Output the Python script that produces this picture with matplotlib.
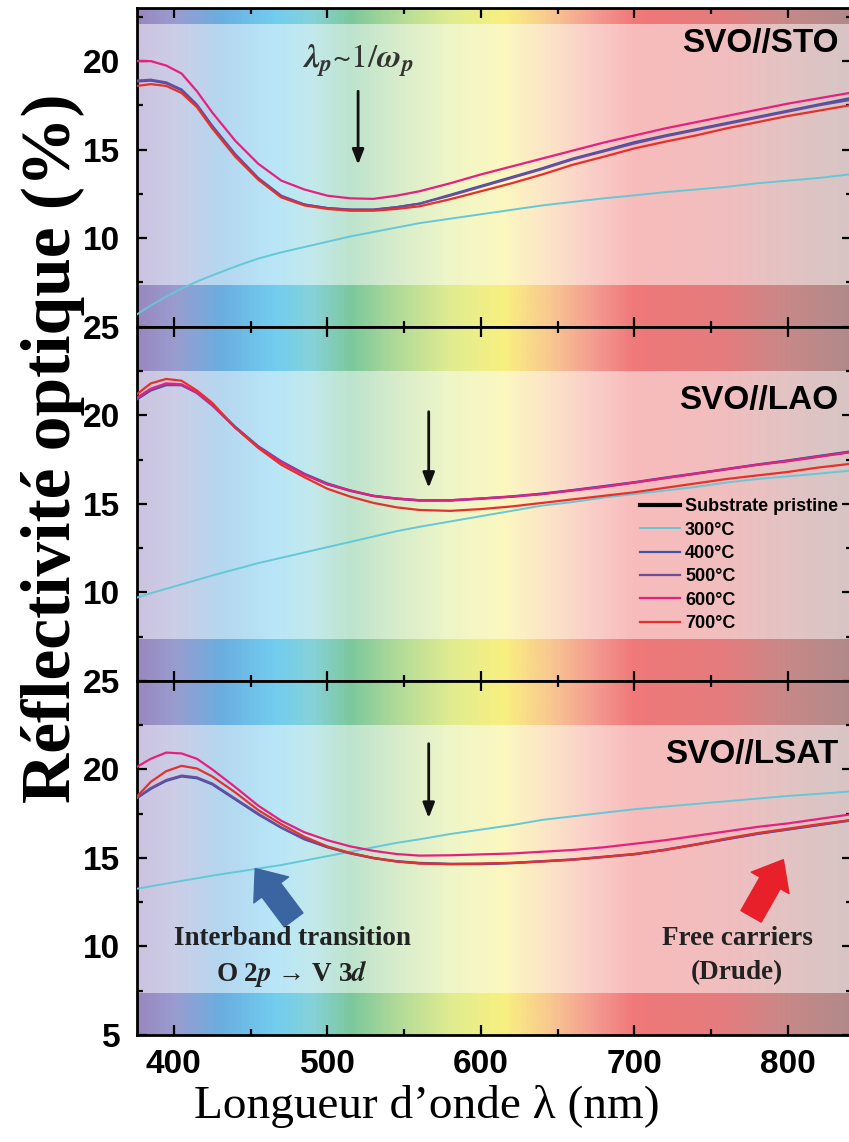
import numpy as np
import matplotlib.pyplot as plt
from matplotlib.colors import LinearSegmentedColormap
from matplotlib.ticker import MultipleLocator

plt.rcParams['font.family'] = ['Liberation Sans Narrow', 'Liberation Sans', 'DejaVu Sans']
plt.rcParams['font.weight'] = 'bold'
plt.rcParams['mathtext.fontset'] = 'stix'

# Data
wavelength = [376, 385, 395, 405, 415, 425, 440, 455, 470, 485, 500, 515, 530, 545, 560,
              580, 600, 620, 640, 660, 680, 700, 720, 740, 760, 780, 800, 820, 840]

temps = ['300°C', '400°C', '500°C', '600°C', '700°C']

sto_300 = [5.7, 6.2, 6.7, 7.15, 7.55, 7.9, 8.4, 8.85, 9.2, 9.5, 9.8, 10.1, 10.35, 10.6, 10.85,
           11.1, 11.35, 11.6, 11.85, 12.05, 12.25, 12.42, 12.6, 12.75, 12.9, 13.1, 13.25, 13.4, 13.6]
sto_400 = [18.85, 18.9, 18.75, 18.35, 17.5, 16.3, 14.7, 13.35, 12.35, 11.9, 11.7, 11.6, 11.6, 11.75, 11.95,
           12.45, 12.95, 13.45, 13.95, 14.5, 14.95, 15.42, 15.8, 16.15, 16.5, 16.85, 17.2, 17.55, 17.9]
sto_500 = [18.9, 18.95, 18.8, 18.4, 17.55, 16.35, 14.75, 13.4, 12.4, 11.9, 11.7, 11.62, 11.62, 11.75, 11.95,
           12.4, 12.9, 13.4, 13.9, 14.45, 14.9, 15.35, 15.75, 16.1, 16.45, 16.8, 17.15, 17.5, 17.8]
sto_600 = [20.0, 20.0, 19.75, 19.3, 18.3, 17.1, 15.5, 14.2, 13.25, 12.75, 12.4, 12.25, 12.22, 12.4, 12.65,
           13.1, 13.6, 14.05, 14.5, 14.95, 15.4, 15.8, 16.2, 16.55, 16.9, 17.25, 17.6, 17.9, 18.2]
sto_700 = [18.6, 18.7, 18.6, 18.2, 17.4, 16.2, 14.6, 13.3, 12.3, 11.85, 11.65, 11.55, 11.55, 11.65, 11.8,
           12.2, 12.65, 13.1, 13.6, 14.15, 14.6, 15.07, 15.45, 15.8, 16.2, 16.55, 16.9, 17.2, 17.5]

lao_300 = [9.7, 9.95, 10.2, 10.45, 10.7, 10.95, 11.3, 11.65, 11.95, 12.25, 12.55, 12.85, 13.15, 13.45, 13.7,
           14.0, 14.3, 14.6, 14.9, 15.1, 15.35, 15.55, 15.75, 15.95, 16.2, 16.4, 16.55, 16.7, 16.87]
lao_400 = [20.9, 21.4, 21.7, 21.7, 21.3, 20.6, 19.35, 18.25, 17.4, 16.7, 16.15, 15.75, 15.45, 15.3, 15.2,
           15.2, 15.3, 15.42, 15.58, 15.78, 16.0, 16.22, 16.48, 16.72, 16.97, 17.22, 17.45, 17.7, 17.95]
lao_500 = [20.95, 21.45, 21.75, 21.7, 21.25, 20.55, 19.3, 18.2, 17.35, 16.65, 16.1, 15.72, 15.43, 15.28, 15.18,
           15.18, 15.28, 15.4, 15.55, 15.76, 15.97, 16.2, 16.45, 16.7, 16.95, 17.2, 17.43, 17.68, 17.92]
lao_600 = [21.0, 21.5, 21.8, 21.75, 21.3, 20.6, 19.3, 18.2, 17.35, 16.65, 16.1, 15.75, 15.45, 15.3, 15.2,
           15.2, 15.3, 15.4, 15.55, 15.75, 15.95, 16.2, 16.45, 16.7, 16.95, 17.2, 17.4, 17.65, 17.9]
lao_700 = [21.2, 21.8, 22.05, 21.95, 21.4, 20.7, 19.3, 18.15, 17.2, 16.5, 15.85, 15.4, 15.05, 14.8, 14.65,
           14.6, 14.7, 14.85, 15.05, 15.25, 15.45, 15.65, 15.9, 16.15, 16.4, 16.6, 16.8, 17.05, 17.25]

lsat_300 = [13.26, 13.4, 13.55, 13.7, 13.85, 14.0, 14.2, 14.4, 14.6, 14.85, 15.1, 15.35, 15.6, 15.85, 16.05,
            16.35, 16.6, 16.85, 17.15, 17.35, 17.55, 17.75, 17.9, 18.05, 18.2, 18.35, 18.5, 18.62, 18.75]
lsat_400 = [18.38, 18.9, 19.35, 19.6, 19.5, 19.15, 18.3, 17.45, 16.7, 16.05, 15.6, 15.25, 14.98, 14.8, 14.7,
            14.65, 14.65, 14.7, 14.8, 14.9, 15.05, 15.2, 15.45, 15.75, 16.05, 16.35, 16.6, 16.85, 17.1]
lsat_500 = [18.4, 18.95, 19.4, 19.65, 19.55, 19.2, 18.35, 17.5, 16.72, 16.08, 15.62, 15.27, 15.0, 14.82, 14.72,
            14.67, 14.67, 14.72, 14.82, 14.92, 15.07, 15.22, 15.47, 15.77, 16.07, 16.37, 16.62, 16.87, 17.12]
lsat_600 = [20.15, 20.6, 20.95, 20.9, 20.6, 20.0, 19.0, 17.95, 17.1, 16.45, 16.0, 15.65, 15.4, 15.22, 15.13,
            15.15, 15.2, 15.25, 15.35, 15.45, 15.6, 15.8, 16.0, 16.25, 16.5, 16.75, 16.95, 17.2, 17.45]
lsat_700 = [18.47, 19.3, 19.9, 20.2, 20.05, 19.6, 18.7, 17.7, 16.9, 16.2, 15.65, 15.28, 15.0, 14.8, 14.68,
            14.65, 14.68, 14.72, 14.8, 14.9, 15.05, 15.22, 15.45, 15.75, 16.1, 16.4, 16.65, 16.9, 17.13]

panel_names = ['SVO//STO', 'SVO//LAO', 'SVO//LSAT']
panel_series = [[sto_300, sto_400, sto_500, sto_600, sto_700],
                [lao_300, lao_400, lao_500, lao_600, lao_700],
                [lsat_300, lsat_400, lsat_500, lsat_600, lsat_700]]
arrow_x = [520, 566, 566]
arrow_y = [(18.3, 14.15), (20.2, 15.9), (21.45, 17.25)]

# styles
line_colors = ['#64c8d8', '#3b55a5', '#6c4d9c', '#e6207f', '#e8302a']
line_widths = [1.4, 1.6, 1.6, 1.6, 1.6]
ylims = [(5, 23), (5, 25), (5, 25)]
band_tops = [22.1, 22.5, 22.5]
band_bottom = 7.35
xlim = (376, 842)

spectrum = LinearSegmentedColormap.from_list('spec', [
    (0.0, '#9888c0'), ((400 - 376) / 466, '#9a9ccf'), ((430 - 376) / 466, '#6aaee0'),
    ((465 - 376) / 466, '#72cdf0'), ((490 - 376) / 466, '#86d2d8'), ((515 - 376) / 466, '#7cc89c'),
    ((545 - 376) / 466, '#b0da98'), ((580 - 376) / 466, '#e0ec90'), ((615 - 376) / 466, '#f8f080'),
    ((645 - 376) / 466, '#f8c890'), ((675 - 376) / 466, '#f49a90'), ((700 - 376) / 466, '#f07878'),
    ((760 - 376) / 466, '#e47c7e'), ((800 - 376) / 466, '#c88888'), (1.0, '#b08a8a')])
grad = spectrum(np.linspace(0, 1, 600))[np.newaxis, :, :3]

fig = plt.figure(figsize=(8.49, 11.42), dpi=100)
gs = fig.add_gridspec(3, 1, height_ratios=[18, 20, 20], left=0.1614, right=1.004,
                      top=0.993, bottom=0.0937, hspace=0)
axes = [fig.add_subplot(gs[i]) for i in range(3)]

for i, ax in enumerate(axes):
    y0, y1 = ylims[i]
    ax.imshow(grad, extent=(xlim[0], xlim[1], y0, y1), aspect='auto', zorder=0)
    ax.axhspan(band_bottom, band_tops[i], color='white', alpha=0.5, lw=0, zorder=1)
    for s, c, lw, lab in zip(panel_series[i], line_colors, line_widths, temps):
        ax.plot(wavelength, s, color=c, lw=lw, label=lab, zorder=3)
    ax.set_xlim(*xlim)
    ax.set_ylim(y0, y1)

    ax.xaxis.set_major_locator(MultipleLocator(100))
    ax.xaxis.set_minor_locator(MultipleLocator(50))
    major = [v for v in [5, 10, 15, 20, 25] if v <= y1 and (i == 2 or v > 5)]
    ax.set_yticks(major)
    ax.set_yticks([7.5, 12.5, 17.5, 22.5], minor=True)
    ax.tick_params(which='both', direction='in', top=True, right=True, width=1.6,
                   labelsize=24, pad=12)
    ax.tick_params(which='major', length=7)
    ax.tick_params(which='minor', length=4)
    ax.tick_params(axis='x', labelbottom=(i == 2), pad=10)
    for sp in ax.spines.values():
        sp.set_linewidth(2)

    ax.text(833, 21.0 if i == 0 else 20.85, panel_names[i], ha='right', va='center',
            fontsize=24, family=['Liberation Sans', 'DejaVu Sans'], fontweight='bold', zorder=5)
    ax.annotate('', xy=(arrow_x[i], arrow_y[i][1]), xytext=(arrow_x[i], arrow_y[i][0]),
                arrowprops=dict(arrowstyle='-|>,head_length=0.9,head_width=0.35', color='#111111',
                                lw=2, shrinkA=0, shrinkB=0), zorder=5)

# annotations
axes[0].text(520, 20.05, r'$\lambda_p$~1/$\omega_p$', ha='center', va='center', fontsize=24,
             color='#333333', family='STIXGeneral', fontweight='normal', zorder=5)

ax3 = axes[2]
ax3.annotate('', xy=(453, 14.4), xytext=(478, 11.5),
             arrowprops=dict(arrowstyle='simple,head_length=0.8,head_width=1.3,tail_width=0.7',
                             color='#3a65a0', mutation_scale=24, shrinkA=0, shrinkB=0), zorder=5)
ax3.annotate('', xy=(797, 14.9), xytext=(776, 11.7),
             arrowprops=dict(arrowstyle='simple,head_length=0.8,head_width=1.3,tail_width=0.7',
                             color='#e8202a', mutation_scale=24, shrinkA=0, shrinkB=0), zorder=5)
serif = ['Liberation Serif', 'DejaVu Serif']
ax3.text(477, 10.45, 'Interband transition', ha='center', va='center', fontsize=19.5,
         family=serif, fontweight='bold', color='#222222', zorder=5)
ax3.text(477, 8.5, r'O 2$\mathit{p}$ → V 3$\mathit{d}$', ha='center', va='center', fontsize=19.5,
         family=serif, fontweight='bold', color='#222222', zorder=5)
ax3.text(767, 10.45, 'Free carriers', ha='center', va='center', fontsize=19.5,
         family=serif, fontweight='bold', color='#222222', zorder=5)
ax3.text(767, 8.5, '(Drude)', ha='center', va='center', fontsize=19.5,
         family=serif, fontweight='bold', color='#222222', zorder=5)

# legend in the middle panel
ax2 = axes[1]
handles, labels = ax2.get_legend_handles_labels()
pristine, = ax2.plot([], [], color='black', lw=3, label='Substrate pristine')
leg = ax2.legend([pristine] + handles, ['Substrate pristine'] + labels, loc='upper left',
                 bbox_to_anchor=(0.703, 0.515), frameon=False, fontsize=13, handlelength=2.2,
                 handletextpad=0.3, labelspacing=0.35, borderaxespad=0, borderpad=0)
for t in leg.get_texts():
    t.set_fontweight('bold')

fig.text(0.062, 1 - 448 / 1142, 'Réflectivité optique (%)', rotation=90, ha='center', va='center',
         fontsize=50, family=serif, fontweight='bold')
fig.text(0.503, 1 - 1106 / 1142, 'Longueur d’onde λ (nm)', ha='center', va='center',
         fontsize=34, family=serif, fontweight='normal')

fig.savefig('out.png', dpi=100)
